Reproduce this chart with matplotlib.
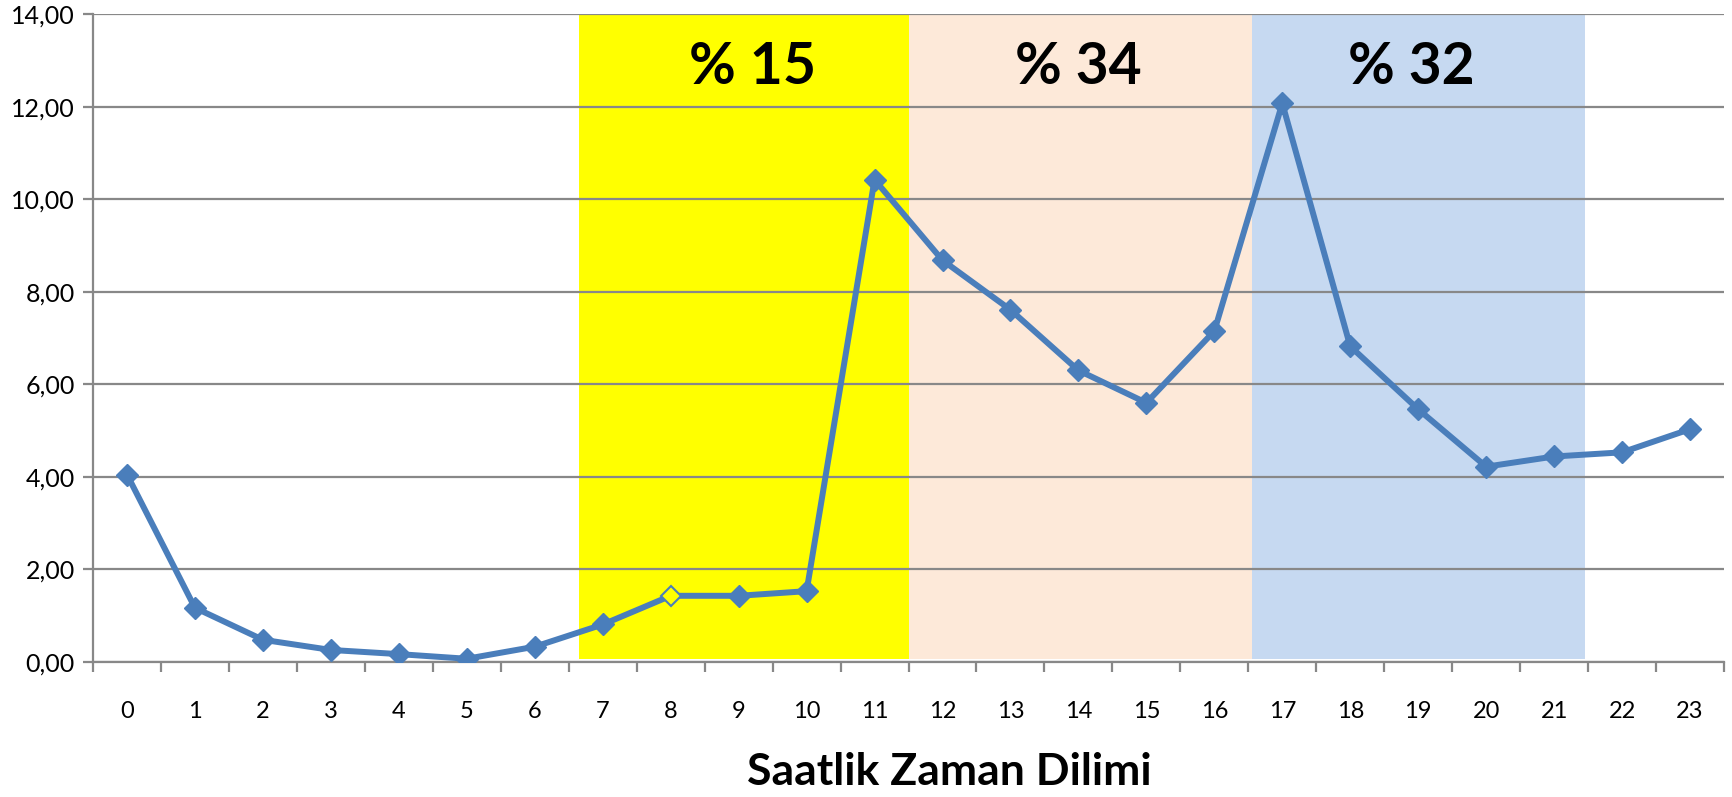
import matplotlib.pyplot as plt
import numpy as np

# hourly values
hours = list(range(24))
values = [4.05, 1.17, 0.48, 0.26, 0.17, 0.07, 0.33, 0.81, 1.43, 1.43, 1.53, 10.42,
          8.68, 7.61, 6.30, 5.60, 7.15, 12.07, 6.82, 5.46, 4.22, 4.44, 4.53, 5.03]

# shaded periods (start hour edge, end hour edge), colours and share labels
band_starts = [6.65, 11.5, 16.55]
band_ends = [11.5, 16.55, 21.45]
band_colors = ["#ffff00", "#fde9d9", "#c6d9f1"]
band_labels = ["% 15", "% 34", "% 32"]
label_pos = [9.2, 14.0, 18.9]

plt.rcParams['font.family'] = ['Lato', 'DejaVu Sans']

fig = plt.figure(figsize=(17.32, 7.97), dpi=100)
ax = fig.add_axes([0.0537, 0.1694, 0.9417, 0.813])

grid_c = "#888888"

# background bands
for s, e, c in zip(band_starts, band_ends, band_colors):
    ax.axvspan(s, e, ymin=0.004, ymax=1.0, color=c, zorder=0, lw=0)

for x, t in zip(label_pos, band_labels):
    ax.text(x, 12.85, t, ha="center", va="center", fontsize=41, fontweight="bold", zorder=5)

# gridlines
ax.set_yticks(np.arange(0, 15, 2))
ax.yaxis.grid(True, color=grid_c, lw=1.6, zorder=1)
ax.set_axisbelow(False)

# line and markers
blue = "#4a7ebb"
ax.plot(hours, values, color=blue, lw=4.3, zorder=3, solid_capstyle="round")
filled = [i for i in hours if i != 8]
ax.plot([hours[i] for i in filled], [values[i] for i in filled], ls="none",
        marker="D", markersize=11, color=blue, zorder=4)
ax.plot(hours[8], values[8], ls="none", marker="D", markersize=10.5,
        markerfacecolor="#ffff00", markeredgecolor=blue, markeredgewidth=1.5, zorder=4)

ax.set_xlim(-0.5, 23.5)
ax.set_ylim(0, 14)
ax.set_yticklabels([f"{v:.2f}".replace(".", ",") for v in np.arange(0, 15, 2)], fontsize=18)
ax.set_xticks(hours)
ax.set_xticklabels([str(h) for h in hours], fontsize=17)
ax.set_xticks(np.arange(-0.5, 24, 1), minor=True)
ax.tick_params(axis="x", which="major", length=0, pad=28)
ax.tick_params(axis="x", which="minor", length=7, width=1.6, color=grid_c)
ax.tick_params(axis="y", length=7, width=1.6, color=grid_c, pad=6)

for s in ["top", "right"]:
    ax.spines[s].set_visible(False)
for s in ["left", "bottom"]:
    ax.spines[s].set_color(grid_c)
    ax.spines[s].set_linewidth(1.6)

ax.set_xlabel("Saatlik Zaman Dilimi", fontsize=32, fontweight="bold", labelpad=22)
ax.xaxis.label.set_x(0.525)

plt.savefig("out.png", dpi=100)
